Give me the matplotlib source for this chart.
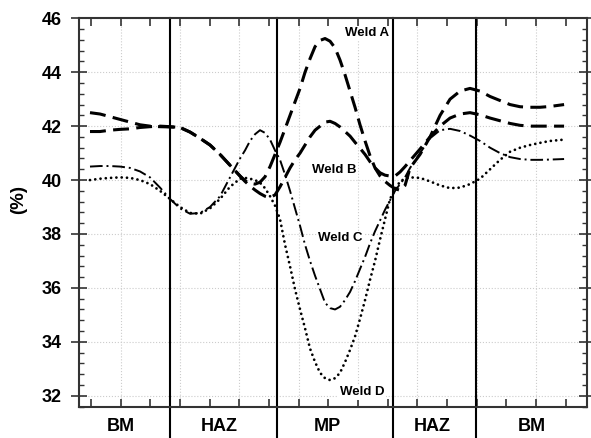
import matplotlib
matplotlib.use("Agg")
import matplotlib.pyplot as plt
from matplotlib.ticker import MultipleLocator
import matplotlib.transforms as mtransforms

# position along the weld (grid units, one unit = one major grid step)
pos = [-0.518, -0.349, -0.180, -0.012, 0.157, 0.325, 0.494, 0.663, 0.831, 1.000,
       1.169, 1.337, 1.506, 1.675, 1.843, 2.012, 2.096, 2.180, 2.265, 2.349,
       2.433, 2.518, 2.602, 2.686, 2.771, 2.855, 2.939, 3.024, 3.108, 3.192,
       3.277, 3.361, 3.445, 3.530, 3.614, 3.698, 3.783, 3.867, 3.951, 4.035,
       4.120, 4.204, 4.288, 4.373, 4.457, 4.541, 4.626, 4.710, 4.794, 4.879,
       5.047, 5.216, 5.385, 5.553, 5.722, 5.890, 6.059, 6.228, 6.396, 6.565,
       6.734, 6.902, 7.071, 7.239, 7.476]

weld_a = [42.5, 42.45, 42.35, 42.25, 42.15, 42.05, 42.0, 41.98, 41.97, 41.95,
          41.78, 41.55, 41.3, 40.95, 40.55, 40.15, 39.98, 39.88, 39.85, 39.92,
          40.12, 40.5, 40.95, 41.4, 41.9, 42.4, 42.9, 43.4, 44.0, 44.5,
          44.95, 45.18, 45.25, 45.15, 44.9, 44.45, 43.9, 43.3, 42.7, 42.05,
          41.45, 40.9, 40.45, 40.15, 39.95, 39.8, 39.68, 39.62, 39.8, 40.45,
          40.95, 41.6, 42.4, 43.0, 43.3, 43.4, 43.3, 43.1, 42.95, 42.8,
          42.72, 42.7, 42.7, 42.73, 42.8]

weld_b = [41.8, 41.8, 41.85, 41.88, 41.9, 41.95, 41.98, 42.0, 41.98, 41.95,
          41.78, 41.55, 41.3, 40.95, 40.55, 40.15, 39.95, 39.78, 39.63, 39.5,
          39.4, 39.35, 39.45, 39.75, 40.1, 40.45, 40.75, 41.0, 41.3, 41.6,
          41.85, 42.0, 42.15, 42.18, 42.1, 41.97, 41.8, 41.63, 41.4, 41.18,
          40.95, 40.68, 40.45, 40.27, 40.18, 40.15, 40.15, 40.3, 40.5, 40.72,
          41.15, 41.6, 42.0, 42.3, 42.45, 42.5, 42.42, 42.3, 42.2, 42.1,
          42.03, 42.0, 42.0, 42.0, 42.0]

weld_c = [40.5, 40.52, 40.52, 40.5, 40.45, 40.32, 40.1, 39.72, 39.3, 38.95,
          38.75, 38.78, 39.0, 39.4, 40.1, 40.8, 41.1, 41.45, 41.7, 41.85,
          41.75, 41.5, 41.1, 40.75, 40.2, 39.6, 38.95, 38.3, 37.6, 37.0,
          36.45, 35.95, 35.45, 35.25, 35.2, 35.3, 35.55, 35.85, 36.25, 36.7,
          37.15, 37.65, 38.1, 38.5, 38.9, 39.25, 39.6, 39.85, 40.1, 40.45,
          41.0, 41.55, 41.85, 41.9, 41.82, 41.65, 41.45, 41.2, 41.0, 40.85,
          40.78, 40.75, 40.75, 40.76, 40.78]

weld_d = [40.0, 40.05, 40.08, 40.1, 40.08, 40.0, 39.85, 39.6, 39.3, 39.0,
          38.78, 38.75, 38.95, 39.3, 39.75, 40.05, 40.08, 40.05, 40.0, 39.9,
          39.7, 39.4, 39.05, 38.55, 37.6, 36.8, 35.95, 35.2, 34.5, 33.75,
          33.25, 32.85, 32.65, 32.58, 32.65, 32.85, 33.25, 33.7, 34.2, 34.85,
          35.55, 36.3, 37.0, 37.8, 38.55, 39.3, 39.65, 39.95, 40.05, 40.1,
          40.08, 39.95, 39.8, 39.7, 39.72, 39.85, 40.05, 40.4, 40.75, 41.05,
          41.2, 41.3, 41.38, 41.45, 41.5]

weld_names = ["Weld A", "Weld B", "Weld C", "Weld D"]
name_x = [4.15, 3.60, 3.71, 4.07]
name_y = [45.44, 40.37, 37.84, 32.12]

zones = ["BM", "HAZ", "MP", "HAZ", "BM"]
zone_x = [0.005, 1.66, 3.49, 5.26, 6.93]
borders = [0.831, 2.631, 4.597, 5.987]

plt.rcParams["font.family"] = ["Liberation Sans", "DejaVu Sans"]
plt.rcParams["font.weight"] = "bold"

fig = plt.figure(figsize=(5.91, 4.38), dpi=100)
ax = fig.add_axes([0.1337, 0.0719, 0.8596, 0.8863])

ax.plot(pos, weld_a, color="black", lw=2.2, dashes=(5.2, 2.4))
ax.plot(pos, weld_b, color="black", lw=2.2, dashes=(5.2, 2.4))
ax.plot(pos, weld_c, color="black", lw=1.4, dashes=(6.5, 2.0, 1.0, 2.0))
ax.plot(pos, weld_d, color="black", lw=2.0, dashes=(0.01, 1.9),
        dash_capstyle="round")

for name, x, y in zip(weld_names, name_x, name_y):
    ax.text(x, y, name, fontsize=9.5, fontweight="bold", ha="center", va="center",
            bbox=dict(fc="white", ec="none", pad=1))

ax.set_xlim(-0.703, 7.863)
ax.set_ylim(31.6, 46)

ax.xaxis.set_major_locator(MultipleLocator(1))
ax.xaxis.set_minor_locator(MultipleLocator(0.5))
ax.yaxis.set_major_locator(MultipleLocator(2))
ax.yaxis.set_minor_locator(MultipleLocator(0.4))

ax.grid(True, which="major", color="#cccccc", ls=":", lw=0.8)
ax.set_axisbelow(True)

ax.tick_params(axis="x", which="both", direction="in", top=True, bottom=True,
               labelbottom=False, length=5.5, width=1.2, color="#333333")
ax.tick_params(axis="y", which="major", direction="inout", left=True, right=True,
               length=11.5, width=1.2, color="#333333", labelsize=13, pad=6.5)
ax.tick_params(axis="y", which="minor", direction="in", left=True, right=True,
               length=3.5, width=1.0, color="#333333")
for lab in ax.get_yticklabels():
    lab.set_fontweight("bold")

for s in ax.spines.values():
    s.set_color("#333333")
    s.set_linewidth(1.5)

for b in borders:
    ax.axvline(b, ymin=-0.085, ymax=1, color="black", lw=1.5, clip_on=False)

trans = mtransforms.blended_transform_factory(ax.transData, ax.transAxes)
for z, x in zip(zones, zone_x):
    ax.text(x, -0.0515, z, transform=trans, fontsize=13, fontweight="bold",
            ha="center", va="center")

fig.text(18.5 / 591, 1 - 200 / 438, "(%)", rotation=90, fontsize=13.5,
         fontweight="bold", ha="center", va="center")

fig.savefig("out.png", dpi=100)
